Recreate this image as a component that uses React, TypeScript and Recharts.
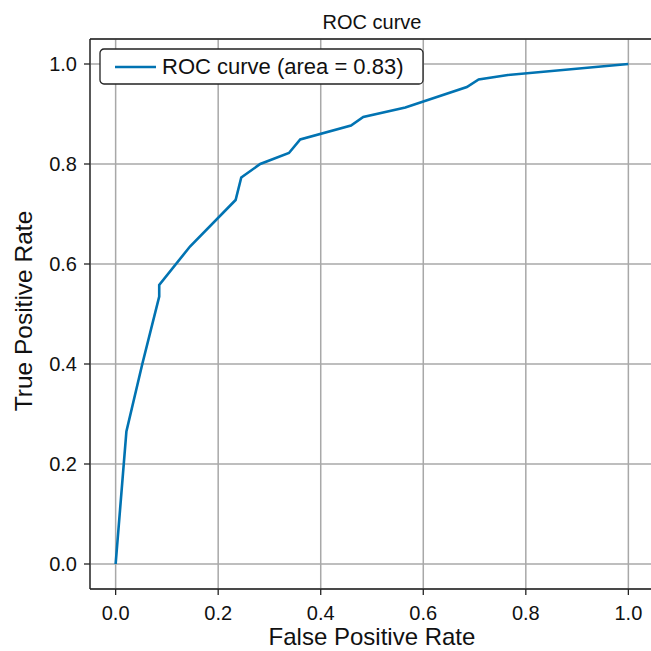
import { LineChart, Line, XAxis, YAxis, CartesianGrid, Legend } from 'recharts'

// false positive rate / true positive rate
const fpr = [0, 0.021, 0.052, 0.085, 0.085, 0.145, 0.234, 0.245, 0.282, 0.338, 0.36, 0.459, 0.483, 0.565, 0.685, 0.708, 0.765, 1.0]
const tpr = [0, 0.265, 0.4, 0.535, 0.558, 0.635, 0.728, 0.773, 0.8, 0.822, 0.849, 0.877, 0.894, 0.913, 0.954, 0.969, 0.978, 1.0]
const axisTicks = [0, 0.2, 0.4, 0.6, 0.8, 1.0]
const chartTitle = 'ROC curve'
const seriesName = 'ROC curve (area = 0.83)'

const rows = fpr.map((x, i) => ({ fpr: x, tpr: tpr[i] }))

const FONT = '"Liberation Sans", Arial, sans-serif'
const INK = '#111'
const BLUE = '#0173b2'
const tickStyle = { fontSize: 20, fill: INK, fontFamily: FONT }

const TitleLabel = ({ viewBox }: any) => (
  <text x={viewBox.x + viewBox.width / 2} y={29} textAnchor="middle" fontSize={20} fill={INK} fontFamily={FONT}>
    {chartTitle}
  </text>
)

const XLabel = ({ viewBox }: any) => (
  <text x={viewBox.x + viewBox.width / 2} y={645} textAnchor="middle" fontSize={24} fill={INK} fontFamily={FONT}>
    False Positive Rate
  </text>
)

const YLabel = ({ viewBox }: any) => {
  const cy = viewBox.y + viewBox.height / 2 - 3
  return (
    <text x={32} y={cy} transform={`rotate(-90, 32, ${cy})`} textAnchor="middle" fontSize={24.5} fill={INK} fontFamily={FONT}>
      True Positive Rate
    </text>
  )
}

const LegendBox = () => (
  <svg width={326} height={38} style={{ display: 'block' }}>
    <rect x={1} y={1} width={323} height={35} rx={4} fill="#fff" stroke="#222" strokeWidth={1.3} />
    <line x1={16} x2={57} y1={19} y2={19} stroke={BLUE} strokeWidth={2.6} />
    <text x={63} y={26} fontSize={22} fill={INK} fontFamily={FONT}>{seriesName}</text>
  </svg>
)

export default function App() {
  return (
    <div style={{ position: 'absolute', left: 0, top: 0, width: 651, height: 651, overflow: 'hidden', background: '#fff' }}>
      <LineChart width={660} height={651} data={rows} margin={{ top: 0, right: 6, bottom: 0, left: 0 }}>
        <CartesianGrid stroke="#a8a8a8" strokeWidth={1.5} />
        <XAxis
          xAxisId="top"
          orientation="top"
          dataKey="fpr"
          type="number"
          domain={[-0.05, 1.05]}
          allowDataOverflow
          height={39}
          tick={false}
          tickLine={false}
          axisLine={{ stroke: '#222', strokeWidth: 1.3 }}
          label={<TitleLabel />}
        />
        <XAxis
          dataKey="fpr"
          type="number"
          domain={[-0.05, 1.05]}
          allowDataOverflow
          ticks={axisTicks}
          tickFormatter={(v: number) => v.toFixed(1)}
          height={62}
          tickSize={6}
          tickMargin={11}
          tick={tickStyle}
          axisLine={{ stroke: '#222', strokeWidth: 1.3 }}
          tickLine={{ stroke: '#222', strokeWidth: 1.3 }}
          label={<XLabel />}
        />
        <YAxis
          type="number"
          domain={[-0.05, 1.05]}
          allowDataOverflow
          ticks={axisTicks}
          tickFormatter={(v: number) => v.toFixed(1)}
          width={90}
          tickSize={6}
          tickMargin={7}
          tick={tickStyle}
          axisLine={{ stroke: '#222', strokeWidth: 1.3 }}
          tickLine={{ stroke: '#222', strokeWidth: 1.3 }}
          label={<YLabel />}
        />
        <Legend
          layout="horizontal"
          verticalAlign="middle"
          align="center"
          content={<LegendBox />}
          wrapperStyle={{ left: 99, top: 48, width: 326, height: 38 }}
        />
        <Line type="linear" dataKey="tpr" name={seriesName} stroke={BLUE} strokeWidth={2.6} dot={false} activeDot={false} isAnimationActive={false} />
      </LineChart>
    </div>
  )
}
